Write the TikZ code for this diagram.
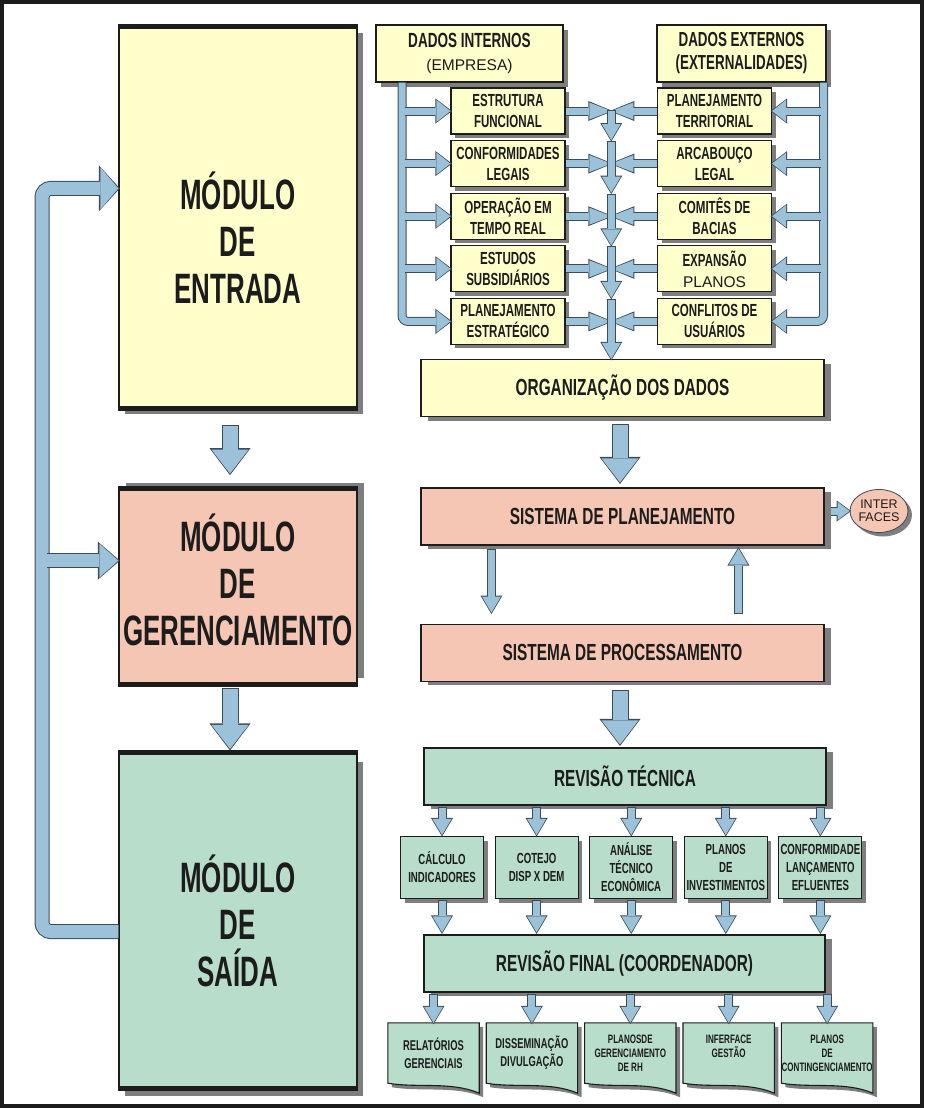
\documentclass[tikz,border=0pt]{standalone}
\usepackage{fontspec}
\setmainfont{Liberation Sans}
\newfontfamily\nf[FakeStretch=0.66]{Liberation Sans}
\newfontfamily\mf[FakeStretch=0.61]{Liberation Sans}
\usetikzlibrary{positioning,calc,arrows.meta,shadows,backgrounds,shapes.geometric}

\definecolor{entyellow}{HTML}{FFFFCC}
\definecolor{gersalmon}{HTML}{F5C6B4}
\definecolor{saigreen}{HTML}{B8DDCA}
\definecolor{arrowfill}{HTML}{9CC2D9}
\definecolor{arrowline}{HTML}{3D4B58}
\definecolor{shadowgray}{HTML}{7E7E7E}
\definecolor{inkdark}{HTML}{1C1C1C}

\newcommand{\fsz}[2]{\fontsize{#1}{#2}\selectfont}

\tikzset{
  % block arrow: shaft, head width, head length, then the same for the rim, start overhang
  barrow/.style n args={7}{draw=arrowfill, line width=#1,
    -{Triangle[width=#2,length=#3,line width=0pt]},
    preaction={draw=arrowline, line width=#4,
      -{Triangle[width=#5,length=#6,line width=0pt]},
      shorten >=-1.5pt, shorten <=#7}},
  modarrow/.style={barrow={15pt}{37pt}{24pt}{17pt}{41pt}{27pt}{-1pt}},
  feedarrow/.style={barrow={13pt}{42pt}{18pt}{15pt}{46pt}{21pt}{0pt}},
  feedbranch/.style={barrow={13pt}{34pt}{19pt}{15pt}{38pt}{22pt}{0pt}},
  smallarrow/.style={barrow={7pt}{19pt}{16pt}{9pt}{22pt}{18.5pt}{-1pt}},
  xarrow/.style={barrow={7pt}{17pt}{22pt}{9pt}{20pt}{24.5pt}{0pt}},
  brarrow/.style={barrow={7pt}{22pt}{14pt}{9pt}{25pt}{16.5pt}{0pt}},
  sh/.style 2 args={drop shadow={shadow xshift=#1, shadow yshift=#2, fill=shadowgray, opacity=1}},
  box/.style={draw=inkdark, line width=1.1pt, inner sep=0pt, align=center, text=inkdark},
  modbox/.style={box, minimum width=238pt, line width=1.3pt},
  modtext/.style={align=center, text=inkdark, font=\mf\bfseries\fsz{42.5}{47}},
  datbox/.style={box, sh={4pt}{-4pt}, fill=entyellow, minimum width=114pt, minimum height=46pt,
    font=\nf\bfseries\fsz{17.5}{21}},
  barbox/.style={box, sh={7pt}{-4pt}, minimum width=403pt, minimum height=57pt,
    font=\nf\bfseries\fsz{23.3}{28}},
  tecbox/.style={box, sh={4pt}{-4pt}, fill=saigreen, minimum width=83pt, minimum height=62pt,
    font=\nf\bfseries\fsz{14.6}{18}},
  docnode/.style={inner sep=0pt, minimum width=91pt, minimum height=60pt, align=center,
    text=inkdark, font=\nf\bfseries\fsz{14.2}{18}},
  docsmall/.style={font=\nf\bfseries\fsz{12.2}{14}},
  docshape/.style={fill=saigreen, draw=inkdark, line width=1.1pt, sh={4pt}{-4pt}},
}

\begin{document}
\begin{tikzpicture}[x=1pt, y=-1pt, node distance=5.5pt]
  \useasboundingbox (0,0) rectangle (924,1108);
  \draw[line width=3.5pt, inkdark] (2,2) rectangle (922,1106);

  % modules on the left
  \node[modbox, sh={6pt}{-6pt}, fill=entyellow, minimum height=381pt] (ent) at (238,217.5) {};
  \node[modbox, sh={7pt}{6pt}, fill=gersalmon, minimum height=195pt, below=80pt of ent] (ger) {};
  \node[modbox, sh={6pt}{-8pt}, fill=saigreen, minimum height=334pt, below=68pt of ger] (sai) {};
  \foreach \m in {ent,ger,sai}
    \draw[line width=5pt, inkdark] (\m.north west) -- (\m.north east) (\m.south west) -- (\m.south east);
  \node[modtext] (enttxt) at ($(ent.center)+(0,20)$) {MÓDULO\\DE\\ENTRADA};
  \node[modtext] (gertxt) at ($(ger.center)+(0,-7)$) {MÓDULO\\DE\\GERENCIAMENTO};
  \node[modtext] (saitxt) at ($(sai.center)+(0,0)$) {MÓDULO\\DE\\SAÍDA};

  \draw[modarrow] ($(ent.south)+(-8,17)$) -- ($(ger.north)+(-8,-15)$);
  \draw[modarrow] ($(ger.south)+(-8,4)$) -- ($(sai.north)+(-8,-4)$);

  % feedback loop
  \coordinate (fbx) at (42,0);
  \coordinate (entin) at ($(ent.north west)+(0,162)$);
  \coordinate (gerin) at ($(ger.north west)+(0,72)$);
  \coordinate (saiout) at ($(sai.west)+(0,11)$);
  \draw[feedarrow, rounded corners=9pt] (saiout) -| (fbx |- entin) -- (entin);
  \draw[feedbranch] ($(fbx |- gerin)+(5,0)$) -- (gerin);

  % data sources
  \node[box, sh={5pt}{-5pt}, fill=entyellow, minimum width=187pt, minimum height=57pt,
    font=\nf\bfseries\fsz{20.5}{23}] (dint) at (469.5,53.5)
    {DADOS INTERNOS\\{\normalfont\fsz{15.5}{23}(EMPRESA)}};
  \node[box, sh={5pt}{-5pt}, fill=entyellow, minimum width=169pt, minimum height=57pt,
    font=\nf\bfseries\fsz{20.3}{23}] (dext) at (741.5,53.5)
    {DADOS EXTERNOS\\(EXTERNALIDADES)};

  \node[datbox] (l1) at (508,111) {ESTRUTURA\\FUNCIONAL};
  \node[datbox, below=of l1] (l2) {CONFORMIDADES\\LEGAIS};
  \node[datbox, below=of l2] (l3) {OPERAÇÃO EM\\TEMPO REAL};
  \node[datbox, below=of l3] (l4) {ESTUDOS\\SUBSIDIÁRIOS};
  \node[datbox, below=of l4] (l5) {PLANEJAMENTO\\ESTRATÉGICO};

  \node[datbox] (r1) at (714.5,111) {PLANEJAMENTO\\TERRITORIAL};
  \node[datbox, below=of r1] (r2) {ARCABOUÇO\\LEGAL};
  \node[datbox, below=of r2] (r3) {COMITÊS DE\\BACIAS};
  \node[datbox, below=of r3] (r4) {EXPANSÃO\\{\normalfont\fsz{15.5}{21}PLANOS}};
  \node[datbox, below=of r4] (r5) {CONFLITOS DE\\USUÁRIOS};

  \coordinate (ltx) at (402,0);
  \coordinate (rtx) at (823.5,0);
  \draw[brarrow, rounded corners=6pt] (dint.south -| ltx) |- (l5.west);
  \foreach \r in {1,...,4}
    \draw[brarrow] ($(ltx |- l\r.west)+(2.5,0)$) -- (l\r.west);
  \draw[brarrow, rounded corners=6pt] (dext.south -| rtx) |- (r5.east);
  \foreach \r in {1,...,4}
    \draw[brarrow] ($(rtx |- r\r.east)+(-2.5,0)$) -- (r\r.east);

  % planning chain
  \node[barbox, fill=entyellow] (org) at (622.5,388) {ORGANIZAÇÃO DOS DADOS};
  \node[barbox, fill=gersalmon] (pla) at (622.5,516.5) {SISTEMA DE PLANEJAMENTO};
  \node[barbox, fill=gersalmon, below=78pt of pla] (pro) {SISTEMA DE PROCESSAMENTO};
  \node[ellipse, draw=arrowline, line width=0.8pt, fill=gersalmon, sh={4pt}{-4pt},
    minimum width=55pt, minimum height=43pt, inner sep=0pt, align=center,
    text=inkdark, font=\fsz{12.5}{13.5}] (itf) at (879,511) {INTER\\FACES};

  \foreach \r in {1,...,5} {
    \coordinate (c\r) at ($(l\r.east)!0.5!(r\r.west)$);
    \draw[xarrow] (l\r.east) -- (c\r);
    \draw[xarrow] (r\r.west) -- (c\r);
  }
  \draw[smallarrow] (c1) -- (c1 |- l2.north);
  \foreach \r/\n in {2/3,3/4,4/5}
    \draw[smallarrow] ($(c\r |- l\r.north)+(0,2)$) -- (c\r |- l\n.north);
  \draw[smallarrow] ($(c5 |- l5.north)+(0,2)$) -- (c5 |- org.north);

  \draw[modarrow] ($(org.south)+(-2.5,8)$) -- ($(pla.north)+(-2.5,-5)$);
  \draw[smallarrow] ($(pla.south west)+(71,4)$) -- ($(pro.north west)+(71,-11)$);
  \draw[smallarrow] ($(pro.north west)+(318,-11)$) -- ($(pla.south west)+(318,3)$);
  \draw[barrow={7pt}{18pt}{12pt}{9pt}{21pt}{14.5pt}{0pt}] ($(pla.east |- itf.west)+(6,0)$) -- (itf.west);

  % review and outputs
  \node[barbox, fill=saigreen, minimum width=402pt] (tec) at (625,776.5) {REVISÃO TÉCNICA};
  \draw[modarrow] ($(pro.south)+(-2.5,9)$) -- ($(tec.north)+(-5,-3)$);

  \node[tecbox] (t1) at (442,867.5) {CÁLCULO\\INDICADORES};
  \node[tecbox, right=10.5pt of t1] (t2) {COTEJO\\DISP X DEM};
  \node[tecbox, right=10.5pt of t2] (t3) {ANÁLISE\\TÉCNICO\\ECONÔMICA};
  \node[tecbox, right=10.5pt of t3] (t4) {PLANOS\\DE\\INVESTIMENTOS};
  \node[tecbox, right=10.5pt of t4] (t5) {CONFORMIDADE\\LANÇAMENTO\\EFLUENTES};

  \node[barbox, fill=saigreen, minimum width=401pt] (fin) at (624.5,963.5) {REVISÃO FINAL (COORDENADOR)};

  \node[docnode] (d1) at (433.5,1053) {RELATÓRIOS\\GERENCIAIS};
  \node[docnode, right=7pt of d1] (d2) {DISSEMINAÇÃO\\DIVULGAÇÃO};
  \node[docnode, docsmall, right=7pt of d2] (d3) {PLANOSDE\\GERENCIAMENTO\\DE RH};
  \node[docnode, docsmall, right=7pt of d3] (d4) {INFERFACE\\GESTÃO\\~};
  \node[docnode, docsmall, right=7pt of d4] (d5) {PLANOS\\DE\\CONTINGENCIAMENTO};
  \begin{scope}[on background layer]
    \foreach \d in {d1,d2,d3,d4,d5}
      \filldraw[docshape] (\d.north west) -- (\d.north east) -- ($(\d.south east)+(0,10)$)
        .. controls ($(\d.south east)+(-28,-2)$) and ($(\d.south west)+(30,5)$) .. (\d.south west) -- cycle;
  \end{scope}

  \foreach \i in {1,...,5} {
    \draw[smallarrow] ($(tec.south -| t\i)+(0,2)$) -- ($(t\i.north)+(0,-1)$);
    \draw[smallarrow] ($(t\i.south)+(0,2)$) -- ($(fin.north -| t\i)+(0,-2)$);
    \draw[smallarrow] ($(fin.south -| d\i)+(0,2)$) -- (d\i.north);
  }
\end{tikzpicture}
\end{document}
